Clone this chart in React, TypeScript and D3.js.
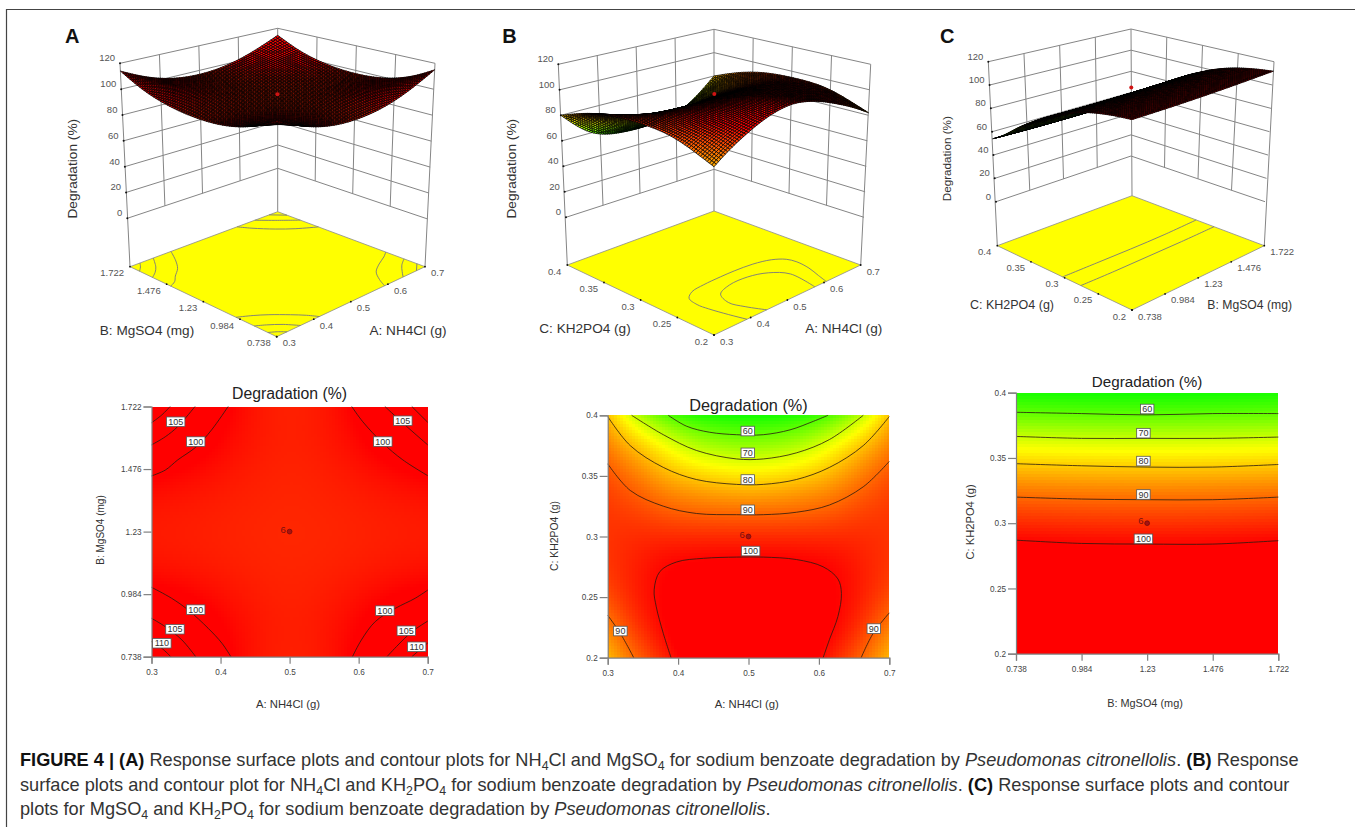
import React, { useEffect, useRef } from 'react'
import * as d3 from 'd3'

const zTicks = [0, 20, 40, 60, 80, 100, 120]
const nh4clTicks = [0.3, 0.4, 0.5, 0.6, 0.7]
const mgso4Ticks = [0.738, 0.984, 1.23, 1.476, 1.722]
const kh2po4Ticks = [0.2, 0.25, 0.3, 0.35, 0.4]

// response grids, first row = top of the contour plot, first column = left
const responseA = [
  [114, 106.5, 100.8, 97.5, 96.5, 97.5, 100.8, 106.5, 114],
  [105.5, 103, 99.5, 97.6, 96.6, 97.6, 99.5, 103, 105.5],
  [100.6, 99.4, 98.2, 97, 96.4, 97, 98.2, 99.4, 100.6],
  [98, 97.6, 97, 96.5, 96.2, 96.5, 97, 97.6, 98],
  [97.2, 97, 96.6, 96.2, 96, 96.2, 96.6, 97, 97.2],
  [98, 97.6, 97, 96.5, 96.2, 96.5, 97, 97.6, 98],
  [101, 100, 98.5, 97.2, 96.5, 97.2, 98.5, 100, 101],
  [106.5, 103.5, 100, 97.8, 96.8, 97.8, 100, 103.5, 106.5],
  [115, 107, 101, 97.6, 96.6, 97.6, 101, 107, 115],
]
const responseB = [
  [80, 68, 59, 55, 53.5, 53, 53.5, 55, 59, 68, 80],
  [85.5, 78.5, 72, 65.5, 63, 62, 63, 65.5, 72, 78.5, 85.5],
  [90, 85, 79, 75, 73, 72, 73, 75, 79, 85, 90],
  [93, 90, 85.5, 83.5, 82, 81, 82, 83.5, 85.5, 90, 93],
  [94.5, 93.5, 91, 90, 89.5, 89.5, 89.5, 90, 91, 93.5, 94.5],
  [95, 96, 96, 96, 96, 96, 96, 96, 96, 96, 95],
  [95, 97, 99.5, 100, 100.5, 100.5, 100.5, 100, 99.5, 97, 95],
  [94, 97.5, 100.5, 102.5, 104, 105, 104, 102.5, 100.5, 97.5, 94],
  [91, 97, 100.5, 104, 106, 107.5, 106, 104, 100.5, 97, 91],
  [86.5, 94.5, 100, 104, 107, 109, 107, 104, 100, 94.5, 86.5],
  [82, 90.5, 97, 103, 107, 109, 107, 103, 97, 90.5, 82],
]
const responseC = [
  [53.9, 53.2, 53, 53.2, 53.9],
  [58.7, 58, 57.8, 58, 58.7],
  [65.2, 64.5, 64.3, 64.5, 65.2],
  [72, 71.3, 71.1, 71.3, 72],
  [77.7, 77, 76.8, 77, 77.7],
  [83.1, 82.4, 82.2, 82.4, 83.1],
  [88.1, 87.4, 87.2, 87.4, 88.1],
  [92.5, 91.8, 91.6, 91.8, 92.5],
  [96.2, 95.5, 95.3, 95.5, 96.2],
  [99.9, 99.2, 99, 99.2, 99.9],
  [102.9, 102.2, 102, 102.2, 102.9],
  [105.4, 104.7, 104.5, 104.7, 105.4],
  [107.4, 106.7, 106.5, 106.7, 107.4],
  [108.9, 108.2, 108, 108.2, 108.9],
  [110.2, 109.5, 109.3, 109.5, 110.2],
  [111.1, 110.4, 110.2, 110.4, 111.1],
  [111.9, 111.2, 111, 111.2, 111.9],
]

// contour lines, [x, y] in axis units
const contoursA = [
  [[0.3, 1.449], [0.32, 1.472], [0.338, 1.512], [0.365, 1.564], [0.387, 1.63], [0.411, 1.722]],
  [[0.3, 1.571], [0.32, 1.603], [0.338, 1.643], [0.363, 1.722]],
  [[0.3, 1.658], [0.315, 1.689], [0.327, 1.722]],
  [[0.59, 1.722], [0.606, 1.662], [0.635, 1.578], [0.664, 1.512], [0.7, 1.45]],
  [[0.638, 1.722], [0.664, 1.657], [0.7, 1.571]],
  [[0.677, 1.722], [0.7, 1.66]],
  [[0.3, 1.011], [0.329, 0.968], [0.353, 0.922], [0.382, 0.85], [0.402, 0.791], [0.415, 0.738]],
  [[0.3, 0.889], [0.32, 0.856], [0.344, 0.804], [0.364, 0.738]],
  [[0.3, 0.797], [0.315, 0.771], [0.328, 0.738]],
  [[0.591, 0.738], [0.604, 0.804], [0.624, 0.876], [0.653, 0.928], [0.682, 0.968], [0.7, 1.0]],
  [[0.641, 0.738], [0.657, 0.784], [0.677, 0.836], [0.7, 0.878]],
  [[0.677, 0.738], [0.7, 0.792]],
]
const contoursB = [
  [[0.386, 0.4], [0.412, 0.391], [0.445, 0.386], [0.483, 0.384], [0.521, 0.384], [0.559, 0.388], [0.592, 0.395], [0.613, 0.4]],
  [[0.334, 0.4], [0.379, 0.384], [0.426, 0.371], [0.483, 0.364], [0.521, 0.364], [0.568, 0.369], [0.615, 0.38], [0.663, 0.4]],
  [[0.3, 0.399], [0.332, 0.375], [0.379, 0.357], [0.426, 0.347], [0.483, 0.343], [0.521, 0.343], [0.568, 0.347], [0.615, 0.357], [0.663, 0.375], [0.7, 0.399]],
  [[0.3, 0.36], [0.332, 0.338], [0.379, 0.325], [0.426, 0.319], [0.483, 0.318], [0.521, 0.318], [0.568, 0.32], [0.615, 0.326], [0.663, 0.341], [0.7, 0.362]],
  [[0.39, 0.2], [0.379, 0.22], [0.369, 0.242], [0.366, 0.256], [0.374, 0.271], [0.398, 0.279], [0.436, 0.282], [0.483, 0.283], [0.521, 0.283], [0.568, 0.281], [0.606, 0.275], [0.627, 0.265], [0.632, 0.253], [0.627, 0.234], [0.615, 0.215], [0.606, 0.2]],
  [[0.3, 0.235], [0.318, 0.22], [0.337, 0.2]],
  [[0.66, 0.2], [0.677, 0.22], [0.7, 0.237]],
]
const contoursC = [
  [[0.738, 0.385], [0.984, 0.384], [1.23, 0.383], [1.476, 0.384], [1.722, 0.384]],
  [[0.738, 0.3665], [0.984, 0.365], [1.23, 0.365], [1.476, 0.365], [1.722, 0.366]],
  [[0.738, 0.3456], [0.984, 0.344], [1.23, 0.343], [1.476, 0.343], [1.722, 0.345]],
  [[0.738, 0.32], [0.984, 0.3185], [1.23, 0.318], [1.476, 0.318], [1.722, 0.32]],
  [[0.738, 0.287], [0.984, 0.2845], [1.23, 0.284], [1.476, 0.284], [1.722, 0.2866]],
]

// the floors of the 3D plots only carry some of those levels
const floorB = [
  contoursB[4],
  [[0.444, 0.2], [0.425, 0.22], [0.415, 0.238], [0.43, 0.256], [0.47, 0.264], [0.52, 0.264], [0.56, 0.256], [0.585, 0.238], [0.575, 0.2]],
]
const floorC = [
  [[0.738, 0.303], [0.984, 0.302], [1.23, 0.301], [1.476, 0.301], [1.722, 0.303]],
  [[0.738, 0.276], [0.984, 0.275], [1.23, 0.275], [1.476, 0.275], [1.722, 0.276]],
]

// contour labels: text, x, y
const labelsA = [
  ['105', 0.335, 1.662], ['100', 0.364, 1.584], ['105', 0.664, 1.666], ['100', 0.635, 1.584],
  ['100', 0.364, 0.923], ['105', 0.334, 0.846], ['110', 0.315, 0.791],
  ['100', 0.638, 0.919], ['105', 0.669, 0.84], ['110', 0.684, 0.777],
]
const labelsB = [
  ['60', 0.499, 0.387], ['70', 0.499, 0.369], ['80', 0.499, 0.347], ['90', 0.499, 0.322],
  ['100', 0.503, 0.288], ['90', 0.318, 0.222], ['90', 0.678, 0.224],
]
const labelsC = [
  ['60', 1.23, 0.3875], ['70', 1.216, 0.369], ['80', 1.216, 0.3476], ['90', 1.216, 0.322], ['100', 1.216, 0.288],
]

const captionLines = [
  [['FIGURE 4 | (A)', 'b'], [' Response surface plots and contour plots for NH'], ['4', 's'], ['Cl and MgSO'], ['4', 's'],
    [' for sodium benzoate degradation by '], ['Pseudomonas citronellolis', 'i'], ['. '], ['(B)', 'b'], [' Response']],
  [['surface plots and contour plot for NH'], ['4', 's'], ['Cl and KH'], ['2', 's'], ['PO'], ['4', 's'],
    [' for sodium benzoate degradation by '], ['Pseudomonas citronellolis', 'i'], ['. '], ['(C)', 'b'], [' Response surface plots and contour']],
  [['plots for MgSO'], ['4', 's'], [' and KH'], ['2', 's'], ['PO'], ['4', 's'],
    [' for sodium benzoate degradation by '], ['Pseudomonas citronellolis', 'i'], ['.']],
]

const FONT = '"Liberation Sans", Arial, sans-serif'

const color = d3.scaleLinear<string>()
  .domain([51, 74, 100])
  .range(['#00ff00', '#ffff00', '#ff0000'])
  .clamp(true)

// smooth a coarse grid on to a fine one
function refine(grid, rows, cols) {
  const rowFns = grid.map(r => d3.interpolateBasis(r))
  const out = []
  const columns = d3.range(cols).map(c => {
    const t = c / (cols - 1)
    return d3.interpolateBasis(rowFns.map(f => f(t)))
  })
  for (let r = 0; r < rows; r++) {
    out.push(columns.map(fn => fn(r / (rows - 1))))
  }
  return out
}

function draw3D(root, p) {
  const g = root.append('g')
  const mix = (a, b, t) => [a[0] + (b[0] - a[0]) * t, a[1] + (b[1] - a[1]) * t]
  const onPlane = (q, u, v) => {
    const a = mix(q.F, q.R, u)
    const b = mix(q.L, q.B, u)
    return mix(a, b, v)
  }
  const zScale = d3.scaleLinear().domain([0, 120]).range([0, 1])
  const project = (u, v, z) => mix(onPlane(p.base, u, v), onPlane(p.top, u, v), zScale(z))
  const uScale = d3.scaleLinear().domain(d3.extent(p.uTicks)).range([0, 1])
  const vScale = d3.scaleLinear().domain(d3.extent(p.vTicks)).range([0, 1])
  const path = d3.line()
  const GRID = '#858585'

  const seg = (a, b, col = GRID, w = 1) =>
    g.append('path').attr('d', path([a, b])).attr('fill', 'none').attr('stroke', col).attr('stroke-width', w)

  // floor
  g.append('path')
    .attr('d', path([p.floor.F, p.floor.R, p.floor.B, p.floor.L]) + 'Z')
    .attr('fill', '#ffff00')
    .attr('stroke', '#8a8a8a')
    .attr('stroke-width', 0.8)

  const contourLine = d3.line().curve(d3.curveCatmullRom)
  p.floorContours.forEach(c => {
    g.append('path')
      .attr('d', contourLine(c.map(d => onPlane(p.floor, uScale(d[0]), vScale(d[1])))))
      .attr('fill', 'none')
      .attr('stroke', '#77777f')
      .attr('stroke-width', 0.9)
  })

  // walls
  zTicks.forEach(z => {
    seg(project(0, 1, z), project(1, 1, z))
    seg(project(1, 1, z), project(1, 0, z))
  })
  ;[0.25, 0.5, 0.75].forEach(t => {
    seg(project(t, 1, 0), project(t, 1, 120))
    seg(project(1, t, 0), project(1, t, 120))
  })
  seg(project(0, 1, 120), p.floor.L)
  seg(project(1, 1, 120), p.floor.B)
  seg(project(1, 0, 120), p.floor.R)

  // z axis
  zTicks.forEach(z => {
    const [x, y] = project(0, 1, z)
    g.append('circle').attr('cx', x).attr('cy', y).attr('r', 1).attr('fill', '#111')
    g.append('text')
      .attr('x', x - 5)
      .attr('y', y - 2)
      .attr('text-anchor', 'end')
      .attr('font-size', 9.5)
      .attr('fill', '#555')
      .text(z)
  })

  // floor ticks
  p.uTicks.forEach(t => {
    const [x, y] = onPlane(p.floor, uScale(t), 0)
    g.append('circle').attr('cx', x).attr('cy', y).attr('r', 0.9).attr('fill', '#111')
    g.append('text')
      .attr('x', x + 6)
      .attr('y', y + 9.5)
      .attr('font-size', 9.5)
      .attr('fill', '#555')
      .text(t)
  })
  p.vTicks.forEach(t => {
    const [x, y] = onPlane(p.floor, 0, vScale(t))
    g.append('circle').attr('cx', x).attr('cy', y).attr('r', 0.9).attr('fill', '#111')
    g.append('text')
      .attr('x', x - 6)
      .attr('y', y + 9.5)
      .attr('text-anchor', 'end')
      .attr('font-size', 9.5)
      .attr('fill', '#555')
      .text(t)
  })

  // surface, painted from the back corner to the front one
  const N = 68
  const fine = refine(p.grid, N + 1, N + 1)
  const cells = []
  for (let r = 0; r < N; r++) {
    for (let c = N - 1; c >= 0; c--) {
      const v0 = 1 - r / N
      const v1 = 1 - (r + 1) / N
      const u0 = c / N
      const u1 = (c + 1) / N
      const z = [fine[r][c], fine[r][c + 1], fine[r + 1][c + 1], fine[r + 1][c]]
      cells.push({
        pts: [project(u0, v0, z[0]), project(u1, v0, z[1]), project(u1, v1, z[2]), project(u0, v1, z[3])],
        val: d3.mean(z),
      })
    }
  }
  g.append('g')
    .selectAll('path')
    .data(cells)
    .join('path')
    .attr('d', d => path(d.pts) + 'Z')
    .attr('fill', d => color(d.val))
    .attr('stroke', '#000')
    .attr('stroke-width', 0.75)

  const dot = project(0.5, 0.5, p.centre)
  g.append('circle').attr('cx', dot[0]).attr('cy', dot[1]).attr('r', 2).attr('fill', '#d11414')

  // titles
  g.append('text')
    .attr('transform', `translate(${p.zTitle.x},${p.zTitle.y}) rotate(-90)`)
    .attr('text-anchor', 'middle')
    .attr('font-size', p.zTitle.size)
    .attr('fill', '#333')
    .text('Degradation (%)')
  p.floorTitles.forEach(t => {
    g.append('text')
      .attr('x', t.x)
      .attr('y', t.y)
      .attr('text-anchor', 'middle')
      .attr('font-size', t.size)
      .attr('fill', '#333')
      .text(t.text)
  })
  g.append('text')
    .attr('x', p.letter.x)
    .attr('y', p.letter.y)
    .attr('font-size', 20)
    .attr('font-weight', 'bold')
    .attr('fill', '#111')
    .text(p.letter.text)
}

function drawContour(root, p) {
  const { left, right, top, bottom } = p.box
  const x = d3.scaleLinear().domain(d3.extent(p.xTicks)).range([left, right])
  const y = d3.scaleLinear().domain(d3.extent(p.yTicks)).range([bottom, top])
  const g = root.append('g')

  const step = 3
  const cols = Math.ceil((right - left) / step)
  const rows = Math.ceil((bottom - top) / step)
  const fine = refine(p.grid, rows, cols)
  const cells = []
  fine.forEach((row, r) => row.forEach((val, c) => cells.push({ r, c, val })))
  g.append('g')
    .selectAll('rect')
    .data(cells)
    .join('rect')
    .attr('x', d => left + d.c * step)
    .attr('y', d => top + d.r * step)
    .attr('width', d => Math.min(step, right - left - d.c * step))
    .attr('height', d => Math.min(step, bottom - top - d.r * step))
    .attr('fill', d => color(d.val))
    .attr('shape-rendering', 'crispEdges')

  const line = d3.line().x(d => x(d[0])).y(d => y(d[1])).curve(d3.curveCatmullRom)
  g.append('g')
    .selectAll('path')
    .data(p.contours)
    .join('path')
    .attr('d', line)
    .attr('fill', 'none')
    .attr('stroke', '#2a1a10')
    .attr('stroke-width', 0.8)

  // axes
  const axisY = d3.axisLeft(y).tickValues(p.yTicks).tickFormat(d => String(d)).tickSize(8).tickPadding(2)
  const axisX = d3.axisBottom(x).tickValues(p.xTicks).tickFormat(d => String(d)).tickSize(7).tickPadding(5)
  const gy = g.append('g').attr('transform', `translate(${left},0)`).call(axisY)
  const gx = g.append('g').attr('transform', `translate(0,${bottom})`).call(axisX)
  ;[gy, gx].forEach(a => {
    a.attr('font-size', 8.2).attr('font-family', FONT)
    a.selectAll('line,path').attr('stroke', '#808080').attr('stroke-width', 1.2)
    a.selectAll('text').attr('fill', '#444')
  })

  // the centre point
  g.append('circle').attr('cx', x(p.centre[0])).attr('cy', y(p.centre[1])).attr('r', 2.4)
    .attr('fill', '#a81212').attr('stroke', '#6a0a0a').attr('stroke-width', 0.7)
  g.append('text').attr('x', x(p.centre[0]) - 9).attr('y', y(p.centre[1]) + 1)
    .attr('font-size', 9.5).attr('fill', '#7a1010').text('6')

  // contour labels
  const lab = g.append('g').selectAll('g').data(p.labels).join('g')
    .attr('transform', d => `translate(${x(d[1])},${y(d[2])})`)
  lab.append('rect')
    .attr('x', d => -(d[0].length * 5 + 3.5) / 2)
    .attr('y', -4.8)
    .attr('width', d => d[0].length * 5 + 3.5)
    .attr('height', 9.6)
    .attr('fill', '#fff')
    .attr('stroke', '#555')
    .attr('stroke-width', 0.8)
  lab.append('text')
    .attr('text-anchor', 'middle')
    .attr('y', 3.2)
    .attr('font-size', 9)
    .attr('fill', '#333')
    .text(d => d[0])

  g.append('text')
    .attr('x', (left + right) / 2)
    .attr('y', p.title.y)
    .attr('text-anchor', 'middle')
    .attr('font-size', p.title.size)
    .attr('fill', '#222')
    .text('Degradation (%)')
  g.append('text')
    .attr('x', p.xTitle.x)
    .attr('y', p.xTitle.y)
    .attr('text-anchor', 'middle')
    .attr('font-size', p.xTitle.size)
    .attr('fill', '#333')
    .text(p.xTitle.text)
  g.append('text')
    .attr('transform', `translate(${p.yTitle.x},${p.yTitle.y}) rotate(-90)`)
    .attr('text-anchor', 'middle')
    .attr('font-size', p.yTitle.size)
    .attr('fill', '#333')
    .text(p.yTitle.text)
}

function drawCaption(root) {
  const baselines = [766, 790.5, 815]
  captionLines.forEach((parts, i) => {
    const t = root.append('text')
      .attr('x', 20)
      .attr('y', baselines[i])
      .attr('font-size', 18.2)
      .attr('fill', '#333')
    let sub = false
    parts.forEach(([s, kind]) => {
      const span = t.append('tspan').text(s)
      if (kind === 'b') span.attr('font-weight', 'bold').attr('fill', '#111')
      if (kind === 'i') span.attr('font-style', 'italic')
      if (kind === 's') {
        span.attr('font-size', 12.4).attr('dy', 4)
        sub = true
      } else if (sub) {
        span.attr('dy', -4)
        sub = false
      }
    })
  })
}

function App() {
  const svgRef = useRef(null)

  useEffect(() => {
    const svg = d3.select(svgRef.current)
    svg.selectAll('*').remove()
    svg.attr('font-family', FONT)

    svg.append('path').attr('d', 'M6.5 827V9.5H1355').attr('fill', 'none').attr('stroke', '#444').attr('stroke-width', 1.2)

    draw3D(svg, {
      grid: responseA,
      uTicks: nh4clTicks,
      vTicks: mgso4Ticks,
      floorContours: contoursA,
      centre: 99,
      floor: { L: [130, 266.7], B: [277.7, 211.7], R: [425, 266.7], F: [276.7, 336.7] },
      base: { L: [127.3, 218.3], B: [277.7, 168.3], R: [427.7, 219], F: [277, 283.3] },
      top: { L: [120, 63.3], B: [277.7, 28.3], R: [435, 63.3], F: [277, 113.7] },
      zTitle: { x: 77, y: 168.7, size: 13.7 },
      floorTitles: [
        { text: 'B: MgSO4 (mg)', x: 147, y: 335, size: 13.6 },
        { text: 'A: NH4Cl (g)', x: 408, y: 335, size: 13.6 },
      ],
      letter: { text: 'A', x: 65, y: 42.7 },
    })
    draw3D(svg, {
      grid: responseB,
      uTicks: nh4clTicks,
      vTicks: kh2po4Ticks,
      floorContours: floorB,
      centre: 99.5,
      floor: { L: [567.3, 265], B: [714, 211], R: [860.7, 265], F: [714, 335] },
      base: { L: [566, 217.3], B: [714, 169.3], R: [864, 217.3], F: [714, 282.7] },
      top: { L: [558.3, 64.3], B: [714, 29.3], R: [870.7, 64.3], F: [714, 113] },
      zTitle: { x: 516, y: 168.7, size: 13.7 },
      floorTitles: [
        { text: 'C: KH2PO4 (g)', x: 585, y: 333, size: 13.6 },
        { text: 'A: NH4Cl (g)', x: 843.7, y: 333, size: 13.6 },
      ],
      letter: { text: 'B', x: 502.3, y: 42.7 },
    })
    draw3D(svg, {
      grid: responseC,
      uTicks: mgso4Ticks,
      vTicks: kh2po4Ticks,
      floorContours: floorC,
      centre: 101,
      floor: { L: [997.3, 245.7], B: [1132, 195.7], R: [1264.3, 245.7], F: [1132, 310] },
      base: { L: [996, 201.7], B: [1131, 156], R: [1265, 201.7], F: [1132, 262.3] },
      top: { L: [988.3, 61.7], B: [1131, 29], R: [1274, 61.7], F: [1132, 109.3] },
      zTitle: { x: 950.5, y: 158.7, size: 11.7 },
      floorTitles: [
        { text: 'C: KH2PO4 (g)', x: 1012, y: 308.5, size: 12.5 },
        { text: 'B: MgSO4 (mg)', x: 1249.7, y: 308.5, size: 12.2 },
      ],
      letter: { text: 'C', x: 940, y: 42.7 },
    })

    drawContour(svg, {
      grid: responseA,
      xTicks: nh4clTicks,
      yTicks: mgso4Ticks,
      contours: contoursA,
      labels: labelsA,
      centre: [0.5, 1.23],
      box: { left: 151.5, right: 427.7, top: 406.5, bottom: 656.7 },
      title: { y: 399, size: 15.8 },
      xTitle: { text: 'A: NH4Cl (g)', x: 288, y: 707.5, size: 11.3 },
      yTitle: { text: 'B: MgSO4 (mg)', x: 104, y: 530, size: 10 },
    })
    drawContour(svg, {
      grid: responseB,
      xTicks: nh4clTicks,
      yTicks: kh2po4Ticks,
      contours: contoursB,
      labels: labelsB,
      centre: [0.5, 0.3],
      box: { left: 607.7, right: 889.3, top: 415.3, bottom: 657.7 },
      title: { y: 410.5, size: 16.3 },
      xTitle: { text: 'A: NH4Cl (g)', x: 746.7, y: 708, size: 11.3 },
      yTitle: { text: 'C: KH2PO4 (g)', x: 557.5, y: 536, size: 10.4 },
    })
    drawContour(svg, {
      grid: responseC,
      xTicks: mgso4Ticks,
      yTicks: kh2po4Ticks,
      contours: contoursC,
      labels: labelsC,
      centre: [1.23, 0.3],
      box: { left: 1016, right: 1278.3, top: 392.7, bottom: 653.7 },
      title: { y: 387, size: 15.2 },
      xTitle: { text: 'B: MgSO4 (mg)', x: 1145, y: 707, size: 10.9 },
      yTitle: { text: 'C: KH2PO4 (g)', x: 974, y: 522, size: 11.2 },
    })

    drawCaption(svg)
  }, [])

  return (
    <svg
      ref={svgRef}
      width={1355}
      height={827}
      style={{ position: 'absolute', left: 0, top: 0, display: 'block', background: '#fff' }}
    />
  )
}

export default App
